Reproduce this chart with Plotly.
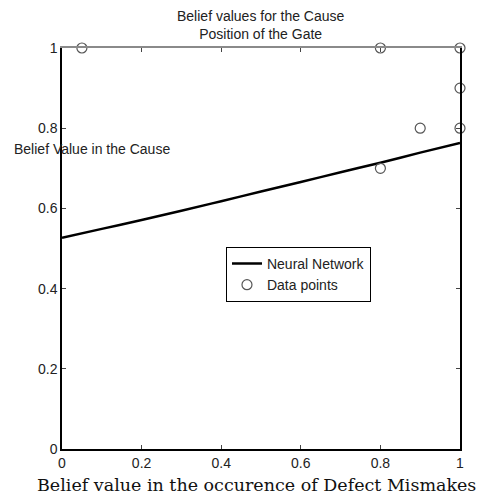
import plotly.graph_objects as go

nn_x = [0, 0.1, 0.2, 0.3, 0.4, 0.5, 0.6, 0.7, 0.8, 0.9, 1.0]
nn_y = [0.527, 0.549, 0.571, 0.594, 0.618, 0.642, 0.666, 0.690, 0.714, 0.739, 0.763]

pts_x = [0.05, 0.8, 1.0, 1.0, 0.9, 1.0, 0.8]
pts_y = [1.0, 1.0, 1.0, 0.9, 0.8, 0.8, 0.7]

ticks = [0, 0.2, 0.4, 0.6, 0.8, 1]
tick_text = ["0", "0.2", "0.4", "0.6", "0.8", "1"]

fig = go.Figure()
fig.add_trace(go.Scatter(x=nn_x, y=nn_y, mode="lines", name="Neural Network",
                         line=dict(color="black", width=2.5, shape="spline")))
fig.add_trace(go.Scatter(x=pts_x, y=pts_y, mode="markers", name="Data points",
                         xaxis="x2", yaxis="y",
                         marker=dict(symbol="circle-open", size=10, color="#555555",
                                     line=dict(width=1.2)), cliponaxis=False))

axis_common = dict(range=[0, 1], tickvals=ticks, ticktext=tick_text, ticks="inside",
                   ticklen=4, tickcolor="#444444", showgrid=False, zeroline=False,
                   showline=True, linecolor="black", linewidth=1.5,
                   tickfont=dict(family="Liberation Sans", size=14, color="#222222"))

fig.update_xaxes(mirror=False, **axis_common)
fig.update_yaxes(mirror="ticks", **axis_common)

fig.update_layout(
    xaxis2=dict(overlaying="x", side="top", range=[0, 1], tickvals=ticks,
                ticks="inside", ticklen=4, tickcolor="#444444",
                showticklabels=False, showgrid=False, zeroline=False,
                showline=True, linecolor="#8a8a8a", linewidth=1.8),
)

fig.update_layout(
    width=476, height=489,
    margin=dict(l=54, r=24, t=40, b=48),
    paper_bgcolor="white", plot_bgcolor="white",
    showlegend=True,
    legend=dict(x=0.412, y=0.504, xanchor="left", yanchor="top",
                bordercolor="black", borderwidth=1, bgcolor="white",
                font=dict(family="Liberation Sans", size=14, color="#222222"),
                tracegroupgap=0, itemwidth=30),
    font=dict(family="Liberation Sans", color="#222222"),
)

fig.add_annotation(text="Belief values for the Cause<br>Position of the Gate",
                   xref="paper", yref="paper", x=0.5, y=1.0, yshift=4,
                   xanchor="center", yanchor="bottom", showarrow=False,
                   font=dict(family="Liberation Sans", size=14, color="#222222"))
fig.add_annotation(text="Belief Value in the Cause",
                   xref="paper", yref="y", x=-0.126, y=0.748,
                   xanchor="left", yanchor="middle", showarrow=False,
                   font=dict(family="Liberation Sans", size=14, color="#222222"))
fig.add_annotation(text="Belief value in the occurence of Defect Mismakes",
                   xref="paper", yref="paper", x=0.489, y=0, yshift=-24,
                   xanchor="center", yanchor="top", showarrow=False,
                   font=dict(family="DejaVu Serif", size=17.5, color="#111111"))

fig.write_html("out.html")
